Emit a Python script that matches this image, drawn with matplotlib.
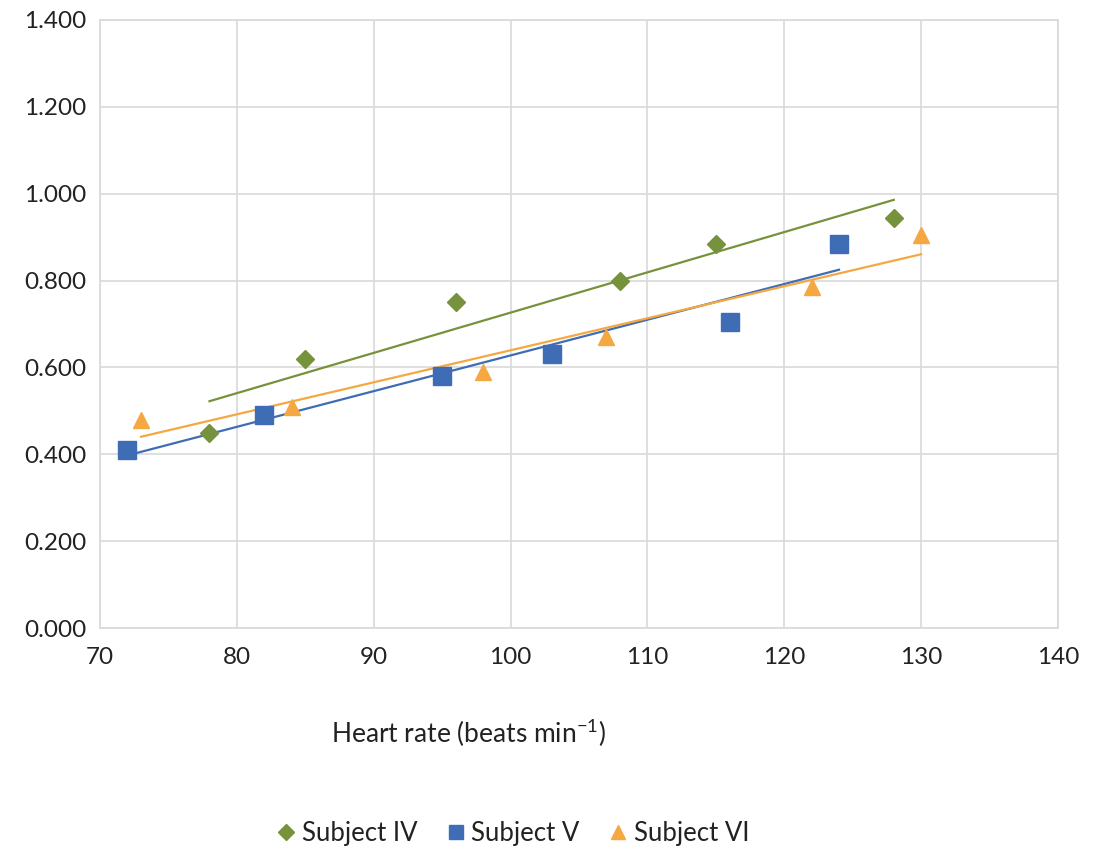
import numpy as np
import matplotlib
matplotlib.use("Agg")
import matplotlib.pyplot as plt
from matplotlib.lines import Line2D

plt.rcParams['font.family'] = ['Lato', 'DejaVu Sans']
plt.rcParams['mathtext.default'] = 'regular'

series_names = ["Subject IV", "Subject V", "Subject VI"]
x_iv = [78, 85, 96, 108, 115, 128]
y_iv = [0.45, 0.62, 0.75, 0.80, 0.885, 0.945]
x_v = [72, 82, 95, 103, 116, 124]
y_v = [0.41, 0.49, 0.58, 0.63, 0.705, 0.885]
x_vi = [73, 84, 98, 107, 122, 130]
y_vi = [0.48, 0.51, 0.59, 0.67, 0.785, 0.905]

colors = ["#77923C", "#3E6DB5", "#F5A841"]
markers = ["D", "s", "^"]
msizes = [9, 12.5, 12]

fig = plt.figure(figsize=(10.94, 8.55), dpi=100)
ax = fig.add_axes([100/1094, 1-628/855, (1058-100)/1094, (628-20)/855])

data = [(x_iv, y_iv), (x_v, y_v), (x_vi, y_vi)]
handles = []
for (xs, ys), c, m, ms, name in zip(data, colors, markers, msizes, series_names):
    xs = np.array(xs, float); ys = np.array(ys, float)
    k, b = np.polyfit(xs, ys, 1)
    xl = np.array([xs.min(), xs.max()])
    ax.plot(xl, k*xl+b, color=c, lw=1.6, zorder=2)
    ax.plot(xs, ys, linestyle='none', marker=m, ms=ms, color=c, zorder=3)
    handles.append(Line2D([], [], linestyle='none', marker=m, ms=ms*0.85, color=c, label=name))

ax.set_xlim(70, 140)
ax.set_ylim(0, 1.4)
ax.set_xticks(np.arange(70, 141, 10))
ax.set_yticks(np.arange(0, 1.41, 0.2))
ax.set_yticklabels([f"{v:.3f}" for v in np.arange(0, 1.41, 0.2)])
ax.grid(True, color="#d9d9d9", lw=1.2)
ax.set_axisbelow(True)
for s in ax.spines.values():
    s.set_color("#d9d9d9")
    s.set_linewidth(1.2)
ax.tick_params(length=0, labelsize=17.5, colors="#222222", pad=10)
ax.tick_params(axis='x', pad=14)

fig.text(469/1094, 1-733/855, "Heart rate (beats min$^{-1}$)", ha='center', va='center',
         fontsize=19, color="#222222")

fig.legend(handles=handles, loc='center', bbox_to_anchor=(510/1094, 1-833/855), ncol=3,
           frameon=False, fontsize=18.5, handletextpad=0.0, handlelength=1.2,
           columnspacing=0.9, labelcolor="#222222")

fig.savefig("out.png", dpi=100, facecolor="white")
